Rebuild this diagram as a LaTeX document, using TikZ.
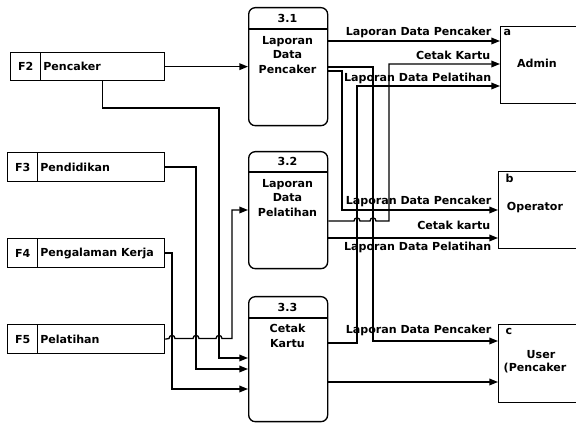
\documentclass[tikz,border=0pt]{standalone}
\usepackage{fontspec}
\setmainfont{DejaVu Sans}
\usetikzlibrary{arrows.meta}
\begin{document}
\begin{tikzpicture}[x=0.75pt,y=-0.75pt,
  font=\fontsize{8.3}{10.9}\selectfont\bfseries,
  line width=1pt,
  bw/.style={minimum width=#1*0.75pt},
  bh/.style={minimum height=#1*0.75pt},
  box/.style={draw, inner sep=0pt, anchor=north west},
  proc/.style={draw, rounded corners=5pt, inner sep=0pt, anchor=north west, minimum width=79*0.75pt},
  arr/.style={-{Triangle[length=6.5pt,width=5pt]}},
  lbl/.style={inner sep=0pt, anchor=east},
  txt/.style={inner sep=0pt},
  storelbl/.style={label={[txt, anchor=west, xshift=2pt]west:#1}}]
\useasboundingbox (0,0) rectangle (576,423);

% data stores
\node[box, bw=30, bh=28] (f2id) at (10,52) {F2};
\node[box, bw=124, bh=28, storelbl=Pencaker] (f2) at (40,52) {};
\node[box, bw=30, bh=29] (f3id) at (7,152) {F3};
\node[box, bw=127, bh=29, storelbl=Pendidikan] (f3) at (37,152) {};
\node[box, bw=30, bh=29] (f4id) at (7,238) {F4};
\node[box, bw=127, bh=29, storelbl={Pengalaman Kerja}] (f4) at (37,238) {};
\node[box, bw=30, bh=29] (f5id) at (7,324) {F5};
\node[box, bw=127, bh=29, storelbl=Pelatihan] (f5) at (37,324) {};

% processes
\node[proc, bh=118] (p31) at (248,7) {};
\draw (p31.west |- 0,29) -- (p31.east |- 0,29);
\node[txt] (p31n) at (287.5,18) {3.1};
\node[txt, align=center] (p31t) at (287.5,55) {Laporan\\Data\\Pencaker};

\node[proc, bh=117] (p32) at (248,151) {};
\draw (p32.west |- 0,172) -- (p32.east |- 0,172);
\node[txt] (p32n) at (287.5,161.5) {3.2};
\node[txt, align=center] (p32t) at (287.5,198) {Laporan\\Data\\Pelatihan};

\node[proc, bh=125] (p33) at (248,296) {};
\draw (p33.west |- 0,318) -- (p33.east |- 0,318);
\node[txt] (p33n) at (287.5,307) {3.3};
\node[txt, align=center] (p33t) at (287.5,336) {Cetak\\Kartu};

% external entities
\node[box, bw=80, bh=77] (admin) at (500,26) {};
\node[txt, anchor=north west] (ida) at (503,29) {a};
\node[txt] (admint) at (537,63) {Admin};
\node[box, bw=82, bh=77] (operator) at (498,171) {};
\node[txt, anchor=north west] (idb) at (505,173) {b};
\node[txt] (operatort) at (535,208) {Operator};
\node[box, bw=82, bh=78] (user) at (498,324) {};
\node[txt, anchor=north west] (idc) at (505,328) {c};
\node[txt] (usert1) at (541,355) {User};
\node[txt] (usert2) at (535,368) {(Pencaker};

% left connectors
\draw[arr] (f2.east) -- (p31.west |- f2.east);
\draw[arr] (f2.south) |- (219,108) |- (p33.west |- 0,358);
\draw[arr] (f3.east) -| (196,369) -- (p33.west |- 0,369);
\draw[arr] (f4.east) -| (172,389) -- (p33.west |- 0,389);
\draw[arr] (f5.east) -- (169,338.5) .. controls (169,334.5) and (175,334.5) .. (175,338.5)
  -- (193,338.5) .. controls (193,334.5) and (199,334.5) .. (199,338.5)
  -- (216,338.5) .. controls (216,334.5) and (222,334.5) .. (222,338.5)
  -- (232,338.5) |- (p32.west |- 0,210);

% right connectors
\draw[arr] (p31.east |- 0,41) -- (admin.west |- 0,41);
\draw[arr] (p31.east |- 0,67) -| (373,341) -- (user.west |- 0,341);
\draw[arr] (p31.east |- 0,71) -| (342,210) -- (operator.west |- 0,210);
\draw[arr] (p32.east |- 0,221) -- (354,221) .. controls (354,217) and (360,217) .. (360,221)
  -- (370,221) .. controls (370,217) and (376,217) .. (376,221)
  -- (389,221) |- (admin.west |- 0,64);
\draw[arr] (p32.east |- 0,238) -- (operator.west |- 0,238);
\draw[arr] (p33.east |- 0,343) -| (357,86) -- (admin.west |- 0,86);
\draw[arr] (p33.east |- 0,382) -- (user.west |- 0,382);

% flow labels
\node[lbl] (la1) at (492,32) {Laporan Data Pencaker};
\node[lbl] (la2) at (491,55) {Cetak Kartu};
\node[lbl] (la3) at (492,78) {Laporan Data Pelatihan};
\node[lbl] (lb1) at (492,201) {Laporan Data Pencaker};
\node[lbl] (lb2) at (491,225) {Cetak kartu};
\node[lbl] (lb3) at (492,247) {Laporan Data Pelatihan};
\node[lbl] (lc1) at (492,330) {Laporan Data Pencaker};
\end{tikzpicture}
\end{document}
